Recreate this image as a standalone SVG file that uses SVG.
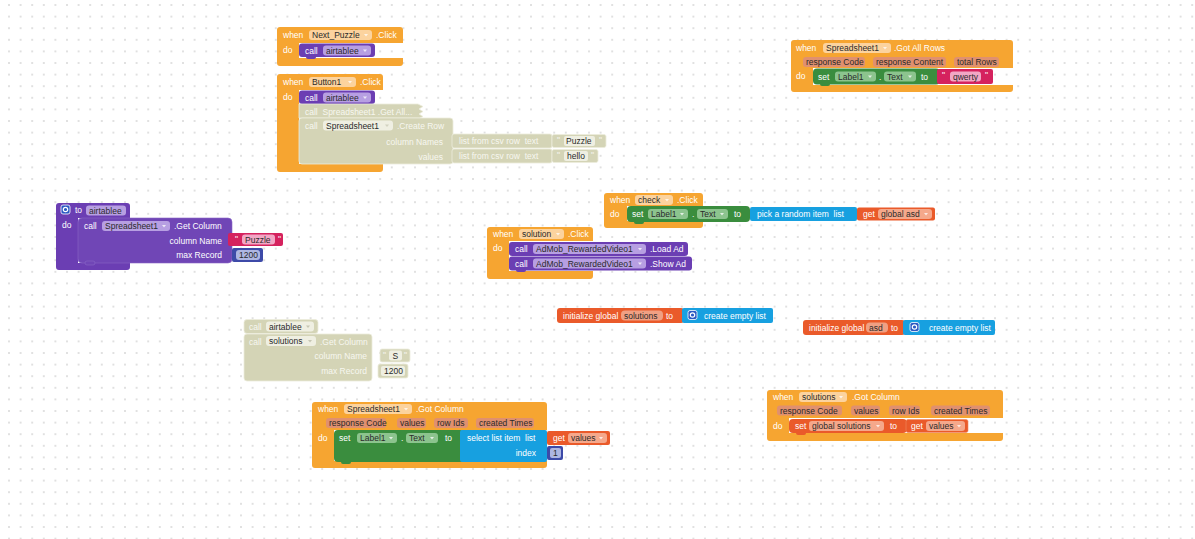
<svg xmlns="http://www.w3.org/2000/svg" width="1195" height="539" viewBox="0 0 1195 539">
<defs>
<pattern id="grid" width="11.6" height="11.6" patternUnits="userSpaceOnUse" x="3.2" y="-0.8">
<circle cx="5.8" cy="5.8" r="0.9" fill="#d2d2d2"/>
</pattern>
<style>
text{font-family:"Liberation Sans",Arial,sans-serif;font-size:8.5px;white-space:pre}
.l{fill:#fff}
.dl{fill:#f7f7f0}
.d{fill:#2a2a2a}
.ev{fill:#f6a531}
.pr{fill:#6b3eb3}
.ca{fill:#7046b6;stroke:#8a66c8;stroke-width:0.6}
.gr{fill:#3a8d3e}
.tx{fill:#d5225e}
.li{fill:#17a0e0}
.va{fill:#ea5a2a}
.nu{fill:#3d4aa8}
.ds{fill:#d4d4b6;stroke:#ececdc;stroke-width:0.8}
.fo{fill:#fcd39e}
.fpar{fill:#e0906f}
.fg{fill:#8cc48e}
.fp{fill:#b79fe2}
.fr{fill:#f5a88b}
.ft{fill:#f2a7c5}
.fn{fill:#aeb6e2}
.fd{fill:#efefe2}
.ar{fill:#fff;fill-opacity:0.75}
.gear{fill:#2b59c3;stroke:#fff;stroke-width:0.8}
</style>
</defs>
<rect width="1195" height="539" fill="#fff"/>
<rect width="1195" height="539" fill="url(#grid)"/>

<g id="next-puzzle-click">
<path class="ev" d="M280,27 H400 Q403,27 403,30 V43 H299 V58 H403 V63 Q403,66 400,66 H280 Q277,66 277,63 V30 Q277,27 280,27 Z"/>
<text class="l" x="283" y="38">when</text>
<rect class="fo" x="309" y="30" width="63" height="10" rx="3"/>
<text class="d" x="312" y="38">Next_Puzzle</text>
<polygon class="ar" points="364,34 368,34 366,36.5"/>
<text class="l" x="376" y="38">.Click</text>
<text class="l" x="283" y="53">do</text>
<rect class="pr" x="299" y="43.5" width="76" height="13.5" rx="3"/>
<rect class="pr" x="306" y="55" width="10" height="4" rx="2"/>
<text class="l" x="305" y="53.5">call</text>
<rect class="fp" x="323" y="45.5" width="48" height="10" rx="3"/>
<text class="d" x="326" y="53.5">airtablee</text>
<polygon class="ar" points="363,49.5 367,49.5 365,52"/>
</g>

<g id="button1-click">
<path class="ev" d="M280,74 H380 Q383,74 383,77 V90 H299 V164 H383 V169 Q383,172 380,172 H280 Q277,172 277,169 V77 Q277,74 280,74 Z"/>
<text class="l" x="283" y="85">when</text>
<rect class="fo" x="309" y="77" width="47" height="10" rx="3"/>
<text class="d" x="312" y="85">Button1</text>
<polygon class="ar" points="348,81 352,81 350,83.5"/>
<text class="l" x="360" y="85">.Click</text>
<text class="l" x="283" y="100">do</text>
<rect class="pr" x="299" y="90.5" width="76" height="13.5" rx="3"/>
<text class="l" x="305" y="100.5">call</text>
<rect class="fp" x="323" y="92.5" width="48" height="10" rx="3"/>
<text class="d" x="326" y="100.5">airtablee</text>
<polygon class="ar" points="363,96.5 367,96.5 365,99"/>
<path class="ds" d="M299,104 H418 L423,106.5 L419,109 L423,111.5 L419,114 L423,116.5 L420,118 H299 Z"/>
<text class="dl" x="305" y="114.5">call  Spreadsheet1 .Get All...</text>
<rect class="ds" x="299" y="118" width="154" height="46" rx="3"/>
<text class="dl" x="305" y="128.5">call</text>
<rect class="fd" x="323" y="120.5" width="70" height="10" rx="3"/>
<text class="d" x="326" y="128.5">Spreadsheet1</text>
<polygon class="ar" points="385,124.5 389,124.5 387,127" style="fill:#c8c8b4"/>
<text class="dl" x="397" y="128.5">.Create Row</text>
<text class="dl" x="443" y="144.5" text-anchor="end">column Names</text>
<text class="dl" x="443" y="159.5" text-anchor="end">values</text>
<rect class="ds" x="452" y="134" width="100" height="14" rx="2"/>
<text class="dl" x="459" y="144">list from csv row  text</text>
<rect class="ds" x="552" y="134.5" width="54" height="13" rx="2"/>
<text class="dl" x="557" y="143">"</text>
<rect class="fd" x="564" y="136" width="31" height="10" rx="2"/>
<text class="d" x="566" y="144">Puzzle</text>
<text class="dl" x="599" y="143">"</text>
<rect class="ds" x="452" y="149" width="100" height="14" rx="2"/>
<text class="dl" x="459" y="159">list from csv row  text</text>
<rect class="ds" x="552" y="149.5" width="46" height="13" rx="2"/>
<text class="dl" x="557" y="158">"</text>
<rect class="fd" x="564" y="151" width="24" height="10" rx="2"/>
<text class="d" x="567" y="159">hello</text>
<text class="dl" x="591" y="158">"</text>
</g>

<g id="got-all-rows">
<path class="ev" d="M794,40 H1010 Q1013,40 1013,43 V68 H813 V85 H1013 V89 Q1013,92 1010,92 H794 Q791,92 791,89 V43 Q791,40 794,40 Z"/>
<text class="l" x="796" y="51">when</text>
<rect class="fo" x="823" y="43" width="68" height="10" rx="3"/>
<text class="d" x="826" y="51">Spreadsheet1</text>
<polygon class="ar" points="883,47 887,47 885,49.5"/>
<text class="l" x="894" y="51">.Got All Rows</text>
<rect class="fpar" x="803" y="57" width="62" height="10" rx="3"/>
<text class="d" x="806" y="65">response Code</text>
<rect class="fpar" x="873" y="57" width="73" height="10" rx="3"/>
<text class="d" x="876" y="65">response Content</text>
<rect class="fpar" x="954" y="57" width="45" height="10" rx="3"/>
<text class="d" x="957" y="65">total Rows</text>
<text class="l" x="796" y="79">do</text>
<rect class="gr" x="813" y="68.5" width="127" height="16" rx="4"/>
<rect class="gr" x="820" y="82" width="10" height="4" rx="2"/>
<text class="l" x="818" y="79.5">set</text>
<rect class="fg" x="835" y="71.5" width="41" height="10" rx="3"/>
<text class="d" x="838" y="79.5">Label1</text>
<polygon class="ar" points="868,75.5 872,75.5 870,78"/>
<text class="l" x="879" y="79.5">.</text>
<rect class="fg" x="884" y="71.5" width="32" height="10" rx="3"/>
<text class="d" x="887" y="79.5">Text</text>
<polygon class="ar" points="908,75.5 912,75.5 910,78"/>
<text class="l" x="921" y="79.5">to</text>
<rect class="tx" x="937" y="69" width="56" height="15" rx="2"/>
<text class="l" x="942" y="78">"</text>
<rect class="ft" x="950" y="71.5" width="31" height="10" rx="3"/>
<text class="d" x="953" y="79.5">qwerty</text>
<text class="l" x="985" y="78">"</text>
</g>

<g id="to-airtablee">
<path class="pr" d="M59,203 H127 Q130,203 130,206 V218 H78 V263 H130 V267 Q130,270 127,270 H59 Q56,270 56,267 V206 Q56,203 59,203 Z"/>
<rect class="gear" x="61" y="205" width="9" height="9" rx="2"/>
<circle cx="65.5" cy="209.5" r="2.2" fill="none" stroke="#fff" stroke-width="1.2"/>
<text class="l" x="75" y="213">to</text>
<rect class="fp" x="86" y="205.5" width="40" height="10" rx="3"/>
<text class="d" x="89" y="213.5">airtablee</text>
<text class="l" x="62" y="228">do</text>
<rect class="ca" x="78" y="218" width="154" height="45" rx="4"/>
<rect class="ca" x="85" y="261" width="10" height="4" rx="2"/>
<text class="l" x="84" y="228.5">call</text>
<rect class="fp" x="102" y="221" width="68" height="10" rx="3"/>
<text class="d" x="105" y="229">Spreadsheet1</text>
<polygon class="ar" points="162,225 166,225 164,227.5"/>
<text class="l" x="174" y="229">.Get Column</text>
<text class="l" x="222" y="243.5" text-anchor="end">column Name</text>
<text class="l" x="222" y="258" text-anchor="end">max Record</text>
<rect class="tx" x="228" y="233" width="55" height="13" rx="2"/>
<text class="l" x="235" y="242">"</text>
<rect class="ft" x="242" y="234.5" width="33" height="10" rx="3"/>
<text class="d" x="245" y="242.5">Puzzle</text>
<text class="l" x="278" y="242">"</text>
<rect class="nu" x="232" y="248" width="31" height="14" rx="2"/>
<rect class="fn" x="236" y="250" width="24" height="10" rx="3"/>
<text class="d" x="239" y="258">1200</text>
</g>

<g id="check-click">
<path class="ev" d="M607,193 H700 Q703,193 703,196 V206 H627 V221 H703 V225 Q703,228 700,228 H607 Q604,228 604,225 V196 Q604,193 607,193 Z"/>
<text class="l" x="610" y="203">when</text>
<rect class="fo" x="635" y="195" width="38" height="10" rx="3"/>
<text class="d" x="638" y="203">check</text>
<polygon class="ar" points="665,199 669,199 667,201.5"/>
<text class="l" x="677" y="203">.Click</text>
<text class="l" x="610" y="217">do</text>
<rect class="gr" x="627" y="206" width="123" height="16" rx="4"/>
<rect class="gr" x="634" y="220" width="10" height="4" rx="2"/>
<text class="l" x="632" y="217">set</text>
<rect class="fg" x="648" y="209" width="40" height="10" rx="3"/>
<text class="d" x="651" y="217">Label1</text>
<polygon class="ar" points="680,213 684,213 682,215.5"/>
<text class="l" x="692" y="217">.</text>
<rect class="fg" x="697" y="209" width="31" height="10" rx="3"/>
<text class="d" x="700" y="217">Text</text>
<polygon class="ar" points="720,213 724,213 722,215.5"/>
<text class="l" x="734" y="217">to</text>
<rect class="li" x="750" y="207" width="107" height="14" rx="2"/>
<text class="l" x="757" y="217">pick a random item  list</text>
<rect class="va" x="857" y="207.5" width="78" height="13" rx="2"/>
<text class="l" x="863" y="217">get</text>
<rect class="fr" x="878" y="209" width="54" height="10" rx="3"/>
<text class="d" x="881" y="217">global asd</text>
<polygon class="ar" points="924,213 928,213 926,215.5"/>
</g>

<g id="solution-click">
<path class="ev" d="M490,227 H590 Q593,227 593,230 V241 H509 V271 H593 V276 Q593,279 590,279 H490 Q487,279 487,276 V230 Q487,227 490,227 Z"/>
<text class="l" x="493" y="237">when</text>
<rect class="fo" x="519" y="229" width="45" height="10" rx="3"/>
<text class="d" x="522" y="237">solution</text>
<polygon class="ar" points="556,233 560,233 558,235.5"/>
<text class="l" x="568" y="237">.Click</text>
<text class="l" x="493" y="251">do</text>
<rect class="pr" x="509" y="242" width="179" height="14" rx="3"/>
<text class="l" x="515" y="252">call</text>
<rect class="fp" x="533" y="244" width="113" height="10" rx="3"/>
<text class="d" x="536" y="252">AdMob_RewardedVideo1</text>
<polygon class="ar" points="638,248 642,248 640,250.5"/>
<text class="l" x="650" y="252">.Load Ad</text>
<rect class="pr" x="509" y="256.5" width="183" height="14" rx="3"/>
<rect class="pr" x="516" y="268" width="10" height="4" rx="2"/>
<text class="l" x="515" y="266.5">call</text>
<rect class="fp" x="533" y="258.5" width="113" height="10" rx="3"/>
<text class="d" x="536" y="266.5">AdMob_RewardedVideo1</text>
<polygon class="ar" points="638,262.5 642,262.5 640,265"/>
<text class="l" x="650" y="266.5">.Show Ad</text>
</g>

<g id="disabled-call-airtablee">
<rect class="ds" x="244" y="319.5" width="74" height="14" rx="3"/>
<text class="dl" x="249" y="329.5">call</text>
<rect class="fd" x="266" y="321.5" width="48" height="10" rx="3"/>
<text class="d" x="269" y="329.5">airtablee</text>
<polygon class="ar" points="306,325.5 310,325.5 308,328" style="fill:#b8b8a4"/>
</g>

<g id="disabled-get-column">
<rect class="ds" x="244" y="334" width="128" height="47" rx="3"/>
<text class="dl" x="249" y="344.5">call</text>
<rect class="fd" x="266" y="336" width="50" height="10" rx="3"/>
<text class="d" x="269" y="344">solutions</text>
<polygon class="ar" points="308,340 312,340 310,342.5" style="fill:#b8b8a4"/>
<text class="dl" x="320" y="344.5">.Get Column</text>
<text class="dl" x="367" y="359" text-anchor="end">column Name</text>
<text class="dl" x="367" y="374" text-anchor="end">max Record</text>
<rect class="ds" x="380" y="349" width="30" height="13" rx="2"/>
<text class="dl" x="383" y="358">"</text>
<rect class="fd" x="389" y="350.5" width="13" height="10" rx="2"/>
<text class="d" x="392.5" y="358.5">S</text>
<text class="dl" x="404" y="358">"</text>
<rect class="ds" x="378" y="364" width="30" height="14" rx="2"/>
<rect class="fd" x="381" y="366" width="24" height="10" rx="2"/>
<text class="d" x="384" y="374">1200</text>
</g>

<g id="init-global-solutions">
<rect class="va" x="557" y="308" width="127" height="15" rx="3"/>
<text class="l" x="563" y="318.5">initialize global</text>
<rect class="fr" x="621" y="310.5" width="42" height="10" rx="4" style="fill:#f0a083"/>
<text class="d" x="624" y="318.5">solutions</text>
<text class="l" x="666" y="318.5">to</text>
<rect class="li" x="682" y="308" width="91" height="15" rx="2"/>
<rect class="gear" x="688" y="310.5" width="9" height="9" rx="2"/>
<circle cx="692.5" cy="315" r="2.2" fill="none" stroke="#fff" stroke-width="1.2"/>
<text class="l" x="704" y="318.5">create empty list</text>
</g>

<g id="init-global-asd">
<rect class="va" x="803" y="320" width="102" height="15" rx="3"/>
<text class="l" x="809" y="330.5">initialize global</text>
<rect class="fr" x="866" y="322.5" width="22" height="10" rx="4" style="fill:#f0a083"/>
<text class="d" x="869" y="330.5">asd</text>
<text class="l" x="891" y="330.5">to</text>
<rect class="li" x="903" y="320" width="92" height="15" rx="2"/>
<rect class="gear" x="910" y="322.5" width="9" height="9" rx="2"/>
<circle cx="914.5" cy="327" r="2.2" fill="none" stroke="#fff" stroke-width="1.2"/>
<text class="l" x="929" y="330.5">create empty list</text>
</g>

<g id="spreadsheet1-got-column">
<path class="ev" d="M315,402 H544 Q547,402 547,405 V430 H334 V461 H547 V465 Q547,468 544,468 H315 Q312,468 312,465 V405 Q312,402 315,402 Z"/>
<text class="l" x="318" y="412">when</text>
<rect class="fo" x="344" y="404" width="68" height="10" rx="3"/>
<text class="d" x="347" y="412">Spreadsheet1</text>
<polygon class="ar" points="404,408 408,408 406,410.5"/>
<text class="l" x="416" y="412">.Got Column</text>
<rect class="fpar" x="326" y="418" width="60" height="10" rx="3"/>
<text class="d" x="329" y="426">response Code</text>
<rect class="fpar" x="397" y="418" width="29" height="10" rx="3"/>
<text class="d" x="400" y="426">values</text>
<rect class="fpar" x="434" y="418" width="34" height="10" rx="3"/>
<text class="d" x="437" y="426">row Ids</text>
<rect class="fpar" x="476" y="418" width="58" height="10" rx="3"/>
<text class="d" x="479" y="426">created Times</text>
<text class="l" x="318" y="441">do</text>
<rect class="gr" x="334" y="430" width="130" height="32" rx="4"/>
<rect class="gr" x="341" y="460" width="10" height="4" rx="2"/>
<text class="l" x="339" y="441">set</text>
<rect class="fg" x="357" y="433" width="40" height="10" rx="3"/>
<text class="d" x="360" y="441">Label1</text>
<polygon class="ar" points="389,437 393,437 391,439.5"/>
<text class="l" x="401" y="441">.</text>
<rect class="fg" x="406" y="433" width="32" height="10" rx="3"/>
<text class="d" x="409" y="441">Text</text>
<polygon class="ar" points="430,437 434,437 432,439.5"/>
<text class="l" x="445" y="441">to</text>
<rect class="li" x="460" y="430" width="87" height="32" rx="2"/>
<text class="l" x="467" y="441">select list item  list</text>
<text class="l" x="536" y="456" text-anchor="end">index</text>
<rect class="va" x="547" y="431" width="63" height="14" rx="2"/>
<text class="l" x="553" y="441">get</text>
<rect class="fr" x="568" y="433" width="39" height="10" rx="3"/>
<text class="d" x="571" y="441">values</text>
<polygon class="ar" points="599,437 603,437 601,439.5"/>
<rect class="nu" x="547" y="446" width="16" height="14" rx="2"/>
<rect class="fn" x="550" y="448" width="11" height="10" rx="2"/>
<text class="d" x="553" y="456">1</text>
</g>

<g id="solutions-got-column">
<path class="ev" d="M770,390 H1000 Q1003,390 1003,393 V418 H789 V433 H1003 V438 Q1003,441 1000,441 H770 Q767,441 767,438 V393 Q767,390 770,390 Z"/>
<text class="l" x="773" y="400">when</text>
<rect class="fo" x="799" y="392" width="48" height="10" rx="3"/>
<text class="d" x="802" y="400">solutions</text>
<polygon class="ar" points="839,396 843,396 841,398.5"/>
<text class="l" x="852" y="400">.Got Column</text>
<rect class="fpar" x="777" y="405.5" width="65" height="10" rx="3"/>
<text class="d" x="780" y="413.5">response Code</text>
<rect class="fpar" x="851" y="405.5" width="29" height="10" rx="3"/>
<text class="d" x="854" y="413.5">values</text>
<rect class="fpar" x="889" y="405.5" width="31" height="10" rx="3"/>
<text class="d" x="892" y="413.5">row Ids</text>
<rect class="fpar" x="931" y="405.5" width="59" height="10" rx="3"/>
<text class="d" x="934" y="413.5">created Times</text>
<text class="l" x="773" y="428.5">do</text>
<rect class="va" x="789" y="419" width="118" height="14" rx="4"/>
<rect class="va" x="796" y="431" width="10" height="4" rx="2"/>
<text class="l" x="795" y="428.5">set</text>
<rect class="fr" x="809" y="421" width="75" height="10" rx="3"/>
<text class="d" x="812" y="429">global solutions</text>
<polygon class="ar" points="876,425 880,425 878,427.5"/>
<text class="l" x="890" y="429">to</text>
<rect class="va" x="906" y="419.5" width="62" height="13" rx="2" style="stroke:#f08a60;stroke-width:0.6"/>
<text class="l" x="911" y="429">get</text>
<rect class="fr" x="926" y="421" width="39" height="10" rx="3"/>
<text class="d" x="929" y="429">values</text>
<polygon class="ar" points="957,425 961,425 959,427.5"/>
</g>
</svg>
